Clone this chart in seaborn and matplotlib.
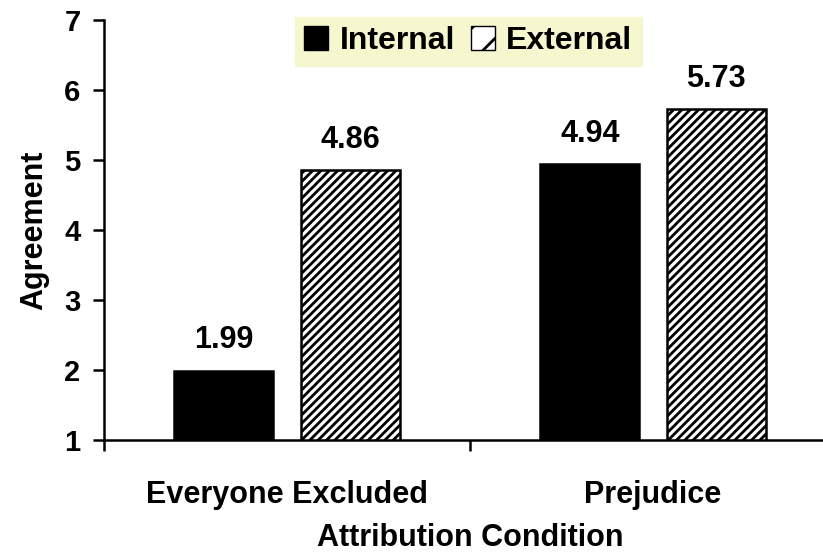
import pandas as pd
import numpy as np
import matplotlib.pyplot as plt
import seaborn as sns
from matplotlib.patches import Patch

# --- data ---
conditions = ['Everyone Excluded', 'Prejudice']
attributions = ['Internal', 'External']
internal_vals = [1.99, 4.94]
external_vals = [4.86, 5.73]
y_ticks = [1, 2, 3, 4, 5, 6, 7]

df = pd.DataFrame({
    'Condition': conditions * 2,
    'Attribution': ['Internal'] * 2 + ['External'] * 2,
    'Agreement': internal_vals + external_vals,
})

sns.set_style("white")
plt.rcParams['font.family'] = ['Liberation Sans', 'DejaVu Sans']
plt.rcParams['font.weight'] = 'bold'
plt.rcParams['hatch.linewidth'] = 2.0
for key in ['text.color', 'axes.labelcolor', 'xtick.color', 'ytick.color']:
    plt.rcParams[key] = 'black'

fig = plt.figure(figsize=(8.23, 5.56), dpi=100)
ax = fig.add_axes([0.1264, 0.2086, 0.8894, 0.7554])

sns.barplot(data=df, x='Condition', y='Agreement', hue='Attribution',
            order=conditions, hue_order=attributions,
            palette={'Internal': 'black', 'External': 'white'},
            width=0.69, gap=0.217, edgecolor='black', linewidth=1.8,
            legend=False, ax=ax)

# hatch the external bars and add value labels
for cont, att in zip(ax.containers, attributions):
    for bar in cont:
        if att == 'External':
            bar.set_hatch('////')
    ax.bar_label(cont, fmt='%.2f', padding=11, fontsize=22, fontweight='bold')

ax.set_ylim(1, 7)
ax.set_xlim(-0.5, 1.5)
ax.set_yticks(y_ticks)
ax.set_xticks([-0.5, 0.5, 1.5])
ax.set_xticklabels([])
ax.set_xticks([0, 1], minor=True)
ax.set_xticklabels(conditions, minor=True, fontsize=22, fontweight='bold')
ax.tick_params(axis='x', which='minor', bottom=False, length=0, pad=29)
ax.tick_params(axis='x', which='major', bottom=True, direction='out',
               length=8, width=1.8, color='black')
ax.tick_params(axis='y', left=True, direction='out', length=8, width=1.8,
               color='black', labelsize=21, pad=9)
for lab in ax.get_yticklabels():
    lab.set_fontweight('bold')

sns.despine(ax=ax, top=True, right=True)
for side in ['left', 'bottom']:
    ax.spines[side].set_linewidth(1.8)
    ax.spines[side].set_color('black')

ax.set_ylabel('Agreement', fontsize=22, fontweight='bold', labelpad=11)
ax.set_xlabel('Attribution Condition', fontsize=22, fontweight='bold', labelpad=9)

handles = [Patch(facecolor='black', edgecolor='black', label='Internal'),
           Patch(facecolor='white', edgecolor='black', hatch='/', label='External')]
leg = fig.legend(handles=handles, loc='center', bbox_to_anchor=(0.569, 0.926),
                 ncol=2, frameon=True, fancybox=False, facecolor='#F7F7CF',
                 edgecolor='#F7F7CF', framealpha=1, handlelength=0.75,
                 handleheight=0.75, handletextpad=0.35, columnspacing=0.5,
                 borderpad=0.3, borderaxespad=0, prop={'size': 23, 'weight': 'bold'})

plt.savefig('out.png', dpi=100)
